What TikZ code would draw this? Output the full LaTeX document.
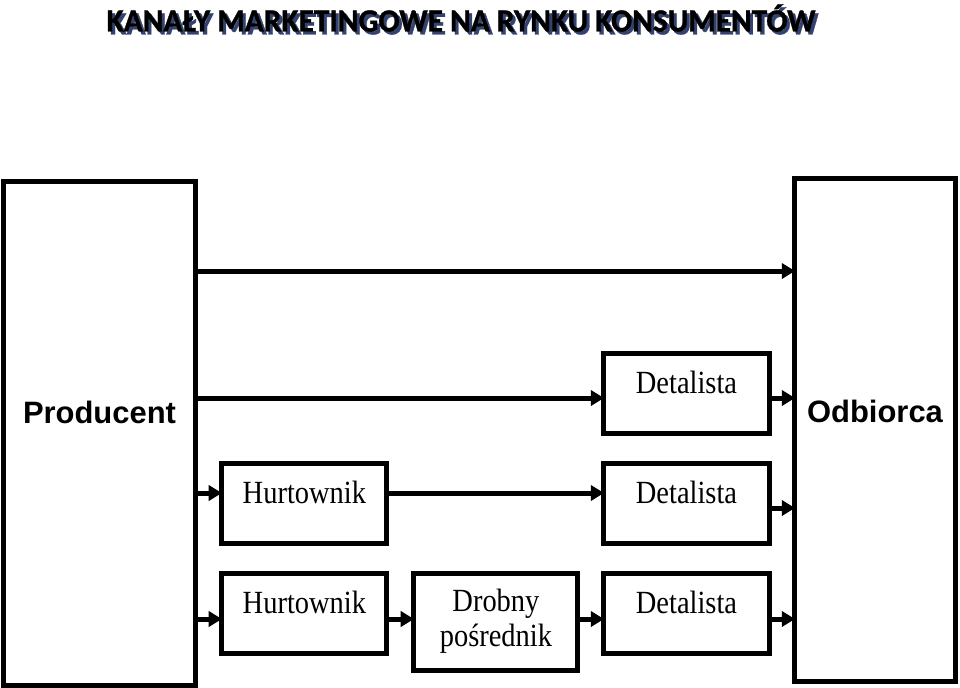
\documentclass[tikz,border=0pt]{standalone}
\usepackage{fontspec}
\setmainfont{Liberation Serif}
\newfontfamily\boxfont[FakeStretch=0.88]{Liberation Serif}
\newfontfamily\arialfont{Liberation Sans}
\newfontfamily\calibrifont[FakeStretch=0.97, FakeBold=1]{Carlito}
\usetikzlibrary{arrows.meta, positioning}
\definecolor{shadowblue}{RGB}{52,66,112}

\begin{document}
\begin{tikzpicture}[
      x=0.025cm, y=-0.025cm,
      node distance=0.75cm and 0.675cm,
      big/.style={rectangle, draw=black, line width=0.125cm, outer sep=0pt,
                  minimum width=4.775cm, minimum height=12.575cm,
                  font=\arialfont\bfseries\fontsize{22}{26}\selectfont},
      box/.style={rectangle, draw=black, line width=0.125cm, outer sep=0pt,
                  minimum width=4.125cm, minimum height=2cm, align=center,
                  text height=16pt, text depth=16pt,
                  font=\boxfont\fontsize{23}{25}\selectfont},
      twoline/.style={box, text height=, text depth=, minimum width=4.1cm,
                      minimum height=2.425cm},
      arr/.style={-{Triangle[length=0.33cm, width=0.38cm]}, line width=0.125cm},
      title/.style={font=\calibrifont\bfseries\fontsize{23}{26}\selectfont}
    ]
    \useasboundingbox (0,0) rectangle (960,687);

    % Header
    \node[title, text=shadowblue] (titleshadow) at (464,21) {KANAŁY MARKETINGOWE NA RYNKU KONSUMENTÓW};
    \node[title] (title) at (461,18) {KANAŁY MARKETINGOWE NA RYNKU KONSUMENTÓW};

    % Outer boxes
    \node[big, text height=16pt, text depth=30pt] (prod) at (99.5,433.5) {Producent};
    \node[big, minimum width=4cm, minimum height=12.55cm, text height=16pt, text depth=27pt] (odb) at (875,430) {Odbiorca};

    % Retailers
    \node[box] (d1) at (686.5,393) {Detalista};
    \node[box, below=of d1] (d2) {Detalista};
    \node[box, below=of d2] (d3) {Detalista};

    % Wholesalers
    \node[box, left=5.425cm of d2] (h1) {Hurtownik};
    \node[box, below=of h1] (h2) {Hurtownik};
    \node[twoline, right=of h2.north east, anchor=north west] (dp) {Drobny\\pośrednik};

    % Arrow levels
    \coordinate (r1) at (0,271);
    \coordinate (r2) at (0,398);
    \coordinate (r3) at (0,493);
    \coordinate (r3b) at (0,508);
    \coordinate (r4) at (0,619);

    % Arrows
    \draw[arr] (prod.east |- r1) -- (odb.west |- r1);
    \draw[arr] (prod.east |- r2) -- (d1.west |- r2);
    \draw[arr] (d1.east |- r2) -- (odb.west |- r2);
    \draw[arr] (prod.east |- r3) -- (h1.west |- r3);
    \draw[arr] (h1.east |- r3) -- (d2.west |- r3);
    \draw[arr] (d2.east |- r3b) -- (odb.west |- r3b);
    \draw[arr] (prod.east |- r4) -- (h2.west |- r4);
    \draw[arr] (h2.east |- r4) -- (dp.west |- r4);
    \draw[arr] (dp.east |- r4) -- (d3.west |- r4);
    \draw[arr] (d3.east |- r4) -- (odb.west |- r4);
  \end{tikzpicture}
\end{document}
